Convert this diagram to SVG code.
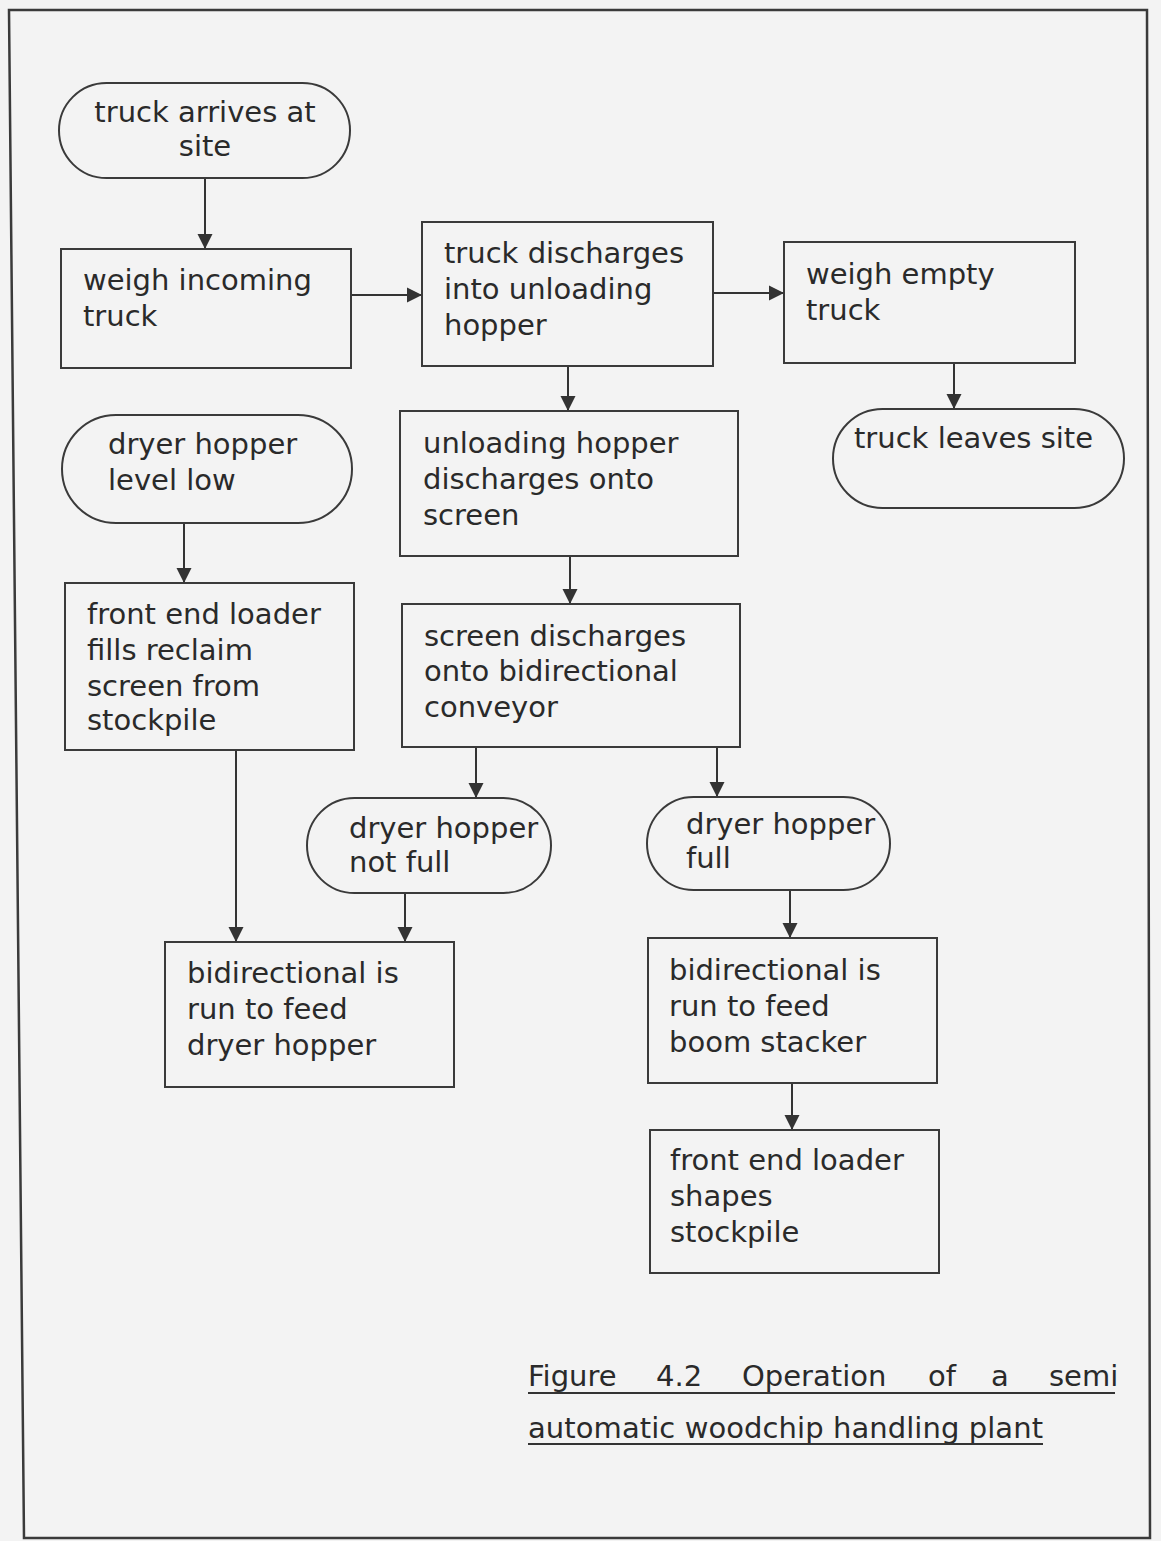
<svg xmlns="http://www.w3.org/2000/svg" width="1161" height="1541" viewBox="0 0 1161 1541">
<defs>
<marker id="ah" markerWidth="16" markerHeight="16" refX="15" refY="8" orient="auto" markerUnits="userSpaceOnUse">
<path d="M0,0.5 L15,8 L0,15.5 Z" fill="#333"/>
</marker>
<style>
.box{fill:none;stroke:#3a3a3a;stroke-width:2}
.t{font-family:"DejaVu Sans",Verdana,sans-serif;font-size:29px;fill:#2a2a2a}
.c{stroke:#333;stroke-width:2;fill:none;marker-end:url(#ah)}
.ul{stroke:#333;stroke-width:2}
</style>
</defs>
<rect x="0" y="0" width="1161" height="1541" fill="#f3f3f3"/>
<path d="M9,10 L1147,10 L1150,1538 L24,1538 Z" fill="none" stroke="#3a3a3a" stroke-width="2.5"/>

<g id="connectors">
<line class="c" x1="205" y1="178" x2="205" y2="249"/>
<line class="c" x1="351" y1="295" x2="422" y2="295"/>
<line class="c" x1="713" y1="293" x2="784" y2="293"/>
<line class="c" x1="568" y1="366" x2="568" y2="411"/>
<line class="c" x1="954" y1="363" x2="954" y2="409"/>
<line class="c" x1="184" y1="523" x2="184" y2="583"/>
<line class="c" x1="570" y1="556" x2="570" y2="604"/>
<line class="c" x1="236" y1="750" x2="236" y2="942"/>
<line class="c" x1="476" y1="747" x2="476" y2="798"/>
<line class="c" x1="717" y1="747" x2="717" y2="797"/>
<line class="c" x1="405" y1="893" x2="405" y2="942"/>
<line class="c" x1="790" y1="890" x2="790" y2="938"/>
<line class="c" x1="792" y1="1083" x2="792" y2="1130"/>
</g>

<g id="n1">
<rect class="box" x="59" y="83" width="291" height="95" rx="47.5"/>
<text class="t" text-anchor="middle"><tspan x="205" y="122">truck arrives at</tspan><tspan x="205" y="156">site</tspan></text>
</g>
<g id="n2">
<rect class="box" x="61" y="249" width="290" height="119"/>
<text class="t"><tspan x="83" y="290">weigh incoming</tspan><tspan x="83" y="326">truck</tspan></text>
</g>
<g id="n3">
<rect class="box" x="422" y="222" width="291" height="144"/>
<text class="t"><tspan x="444" y="263">truck discharges</tspan><tspan x="444" y="299">into unloading</tspan><tspan x="444" y="335">hopper</tspan></text>
</g>
<g id="n4">
<rect class="box" x="784" y="242" width="291" height="121"/>
<text class="t"><tspan x="806" y="284">weigh empty</tspan><tspan x="806" y="320">truck</tspan></text>
</g>
<g id="n5">
<rect class="box" x="833" y="409" width="291" height="99" rx="49.5"/>
<text class="t"><tspan x="854" y="448">truck leaves site</tspan></text>
</g>
<g id="n6">
<rect class="box" x="62" y="415" width="290" height="108" rx="54"/>
<text class="t"><tspan x="108" y="454">dryer hopper</tspan><tspan x="108" y="490">level low</tspan></text>
</g>
<g id="n7">
<rect class="box" x="400" y="411" width="338" height="145"/>
<text class="t"><tspan x="423" y="453">unloading hopper</tspan><tspan x="423" y="489">discharges onto</tspan><tspan x="423" y="525">screen</tspan></text>
</g>
<g id="n8">
<rect class="box" x="65" y="583" width="289" height="167"/>
<text class="t"><tspan x="87" y="624">front end loader</tspan><tspan x="87" y="660">fills reclaim</tspan><tspan x="87" y="696">screen from</tspan><tspan x="87" y="730">stockpile</tspan></text>
</g>
<g id="n9">
<rect class="box" x="402" y="604" width="338" height="143"/>
<text class="t"><tspan x="424" y="646">screen discharges</tspan><tspan x="424" y="681">onto bidirectional</tspan><tspan x="424" y="717">conveyor</tspan></text>
</g>
<g id="n10">
<rect class="box" x="307" y="798" width="244" height="95" rx="47.5"/>
<text class="t"><tspan x="349" y="838">dryer hopper</tspan><tspan x="349" y="872">not full</tspan></text>
</g>
<g id="n11">
<rect class="box" x="647" y="797" width="243" height="93" rx="46.5"/>
<text class="t"><tspan x="686" y="834">dryer hopper</tspan><tspan x="686" y="868">full</tspan></text>
</g>
<g id="n12">
<rect class="box" x="165" y="942" width="289" height="145"/>
<text class="t"><tspan x="187" y="983">bidirectional is</tspan><tspan x="187" y="1019">run to feed</tspan><tspan x="187" y="1055">dryer hopper</tspan></text>
</g>
<g id="n13">
<rect class="box" x="648" y="938" width="289" height="145"/>
<text class="t"><tspan x="669" y="980">bidirectional is</tspan><tspan x="669" y="1016">run to feed</tspan><tspan x="669" y="1052">boom stacker</tspan></text>
</g>
<g id="n14">
<rect class="box" x="650" y="1130" width="289" height="143"/>
<text class="t"><tspan x="670" y="1170">front end loader</tspan><tspan x="670" y="1206">shapes</tspan><tspan x="670" y="1242">stockpile</tspan></text>
</g>

<g id="caption">
<text class="t" font-size="28"><tspan x="528" y="1386">Figure</tspan><tspan x="656" y="1386">4.2</tspan><tspan x="742" y="1386">Operation</tspan><tspan x="928" y="1386">of</tspan><tspan x="991" y="1386">a</tspan><tspan x="1049" y="1386">semi</tspan></text>
<line class="ul" x1="528" y1="1393" x2="1115" y2="1393"/>
<text class="t" font-size="28"><tspan x="528" y="1438" textLength="515" lengthAdjust="spacing">automatic woodchip handling plant</tspan></text>
<line class="ul" x1="528" y1="1444" x2="1043" y2="1444"/>
</g>
</svg>
